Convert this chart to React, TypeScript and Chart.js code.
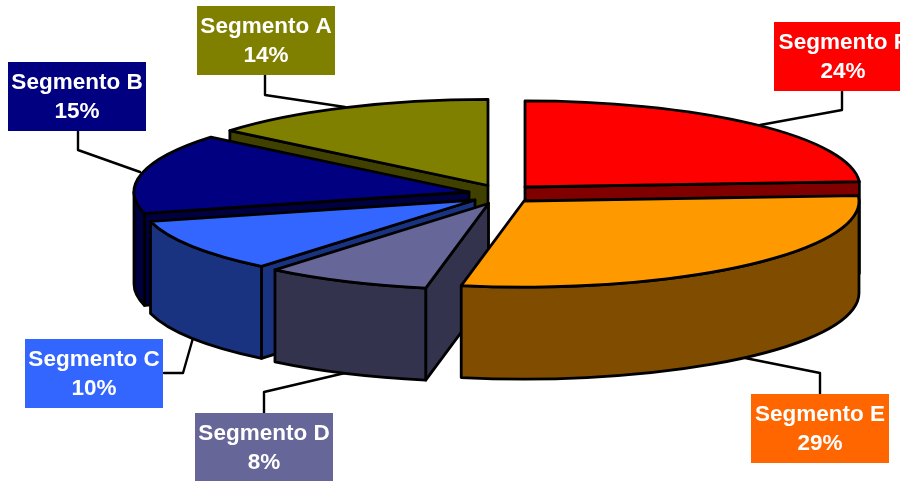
import React, { useEffect, useRef } from "react";
import { Chart, registerables } from "chart.js";

Chart.register(...registerables);

// Shares run clockwise from twelve o'clock.
const segments = ["Segmento F", "Segmento E", "Segmento D", "Segmento C", "Segmento B", "Segmento A"];
const shares = [24, 29, 8, 10, 15, 14];
const topColors = ["#FF0000", "#FF9900", "#666699", "#3366FF", "#000080", "#808000"];
const wallColors = ["#800000", "#804D00", "#33334D", "#1A3380", "#000040", "#404000"];
const boxColors = ["#FF0000", "#FF6600", "#666699", "#3366FF", "#000080", "#808000"];

// Exploded displacement of each slice from the pie centre, in pixels.
const explodeX = [35, 34, -1.5, -15, -21, -2];
const explodeY = [-6, 8, 10.5, 7, -1, -7.5];

// Callout boxes (left, top) and their elbowed leader lines.
const boxLeft = [774, 751, 195, 25, 8, 197];
const boxTop = [22, 394, 413, 339, 62, 6];
const leaders = [
  [[842, 91], [842, 110], [760, 125]],
  [[820, 394], [820, 373], [745, 358]],
  [[264, 413], [264, 392], [345, 373]],
  [[164, 373], [183, 373], [193, 338]],
  [[78, 131], [78, 150], [140, 172]],
  [[265, 75], [265, 95], [345, 107]],
];

const PIE_RADIUS = 335;
const TILT = 0.257;
const DEPTH = 92;
const BOX_W = 138;
const BOX_H = 69;

// Back slices first, the front-right slice last so it overlaps its neighbours.
const paintOrder = [0, 5, 4, 3, 2, 1];

const tiltedPie = {
  id: "tiltedPie",
  beforeDatasetsDraw(chart: any) {
    const ctx = chart.ctx;
    const arcs = chart.getDatasetMeta(0).data;
    ctx.save();
    ctx.lineJoin = "round";
    ctx.lineCap = "round";
    ctx.strokeStyle = "#000";
    ctx.lineWidth = 2.4;

    leaders.forEach((pts) => {
      ctx.beginPath();
      pts.forEach(([x, y], i) => (i ? ctx.lineTo(x, y) : ctx.moveTo(x, y)));
      ctx.stroke();
    });

    ctx.lineWidth = 2.8;
    paintOrder.forEach((i) => {
      const arc = arcs[i];
      const { x, y, startAngle, endAngle, outerRadius } = arc.getProps(
        ["x", "y", "startAngle", "endAngle", "outerRadius"],
        true
      );
      const cx = x + explodeX[i];
      const cy = y + explodeY[i];
      const rx = outerRadius;
      const ry = outerRadius * TILT;
      const rim = (a: number) => [cx + rx * Math.cos(a), cy + ry * Math.sin(a)];

      ctx.fillStyle = wallColors[i];

      // Flat cut faces, only where they turn toward the viewer.
      const cuts: number[] = [];
      if (Math.cos(startAngle) < -1e-6) cuts.push(startAngle);
      if (Math.cos(endAngle) > 1e-6) cuts.push(endAngle);
      cuts.forEach((a) => {
        const [px, py] = rim(a);
        ctx.beginPath();
        ctx.moveTo(cx, cy);
        ctx.lineTo(px, py);
        ctx.lineTo(px, py + DEPTH);
        ctx.lineTo(cx, cy + DEPTH);
        ctx.closePath();
        ctx.fill();
        ctx.stroke();
      });

      // Curved outer wall: only the part facing the viewer.
      const from = Math.max(startAngle, 0);
      const to = Math.min(endAngle, Math.PI);
      if (to > from) {
        ctx.beginPath();
        ctx.ellipse(cx, cy, rx, ry, 0, from, to);
        ctx.ellipse(cx, cy + DEPTH, rx, ry, 0, to, from, true);
        ctx.closePath();
        ctx.fill();
        ctx.stroke();
      }

      // Top face.
      ctx.fillStyle = arc.options.backgroundColor;
      ctx.beginPath();
      ctx.moveTo(cx, cy);
      ctx.ellipse(cx, cy, rx, ry, 0, startAngle, endAngle);
      ctx.closePath();
      ctx.fill();
      ctx.stroke();
    });

    // Callout boxes with name and share.
    ctx.font = 'bold 22.5px "Liberation Sans", Arial, sans-serif';
    ctx.textAlign = "center";
    ctx.textBaseline = "alphabetic";
    segments.forEach((name, i) => {
      const left = boxLeft[i];
      const top = boxTop[i];
      ctx.fillStyle = boxColors[i];
      ctx.fillRect(left, top, BOX_W, BOX_H);
      ctx.fillStyle = "#fff";
      ctx.fillText(name, left + BOX_W / 2, top + 27);
      ctx.fillText(`${shares[i]}%`, left + BOX_W / 2, top + 56);
    });
    ctx.restore();
    return false;
  },
};

export default function App() {
  const ref = useRef<HTMLCanvasElement>(null);

  useEffect(() => {
    document.body.style.margin = "0";
    const chart = new Chart(ref.current as HTMLCanvasElement, {
      type: "pie",
      data: {
        labels: segments,
        datasets: [
          {
            data: shares,
            backgroundColor: topColors,
            borderColor: "#000",
            borderWidth: 2,
            radius: PIE_RADIUS,
          },
        ],
      },
      options: {
        responsive: false,
        animation: false,
        layout: { padding: { left: 80, bottom: 95 } },
        plugins: { legend: { display: false }, tooltip: { enabled: false } },
      },
      plugins: [tiltedPie],
    } as any);
    return () => chart.destroy();
  }, []);

  return (
    <div style={{ width: 900, height: 481, overflow: "hidden", background: "#fff" }}>
      <canvas ref={ref} width={900} height={481} style={{ display: "block" }} />
    </div>
  );
}
